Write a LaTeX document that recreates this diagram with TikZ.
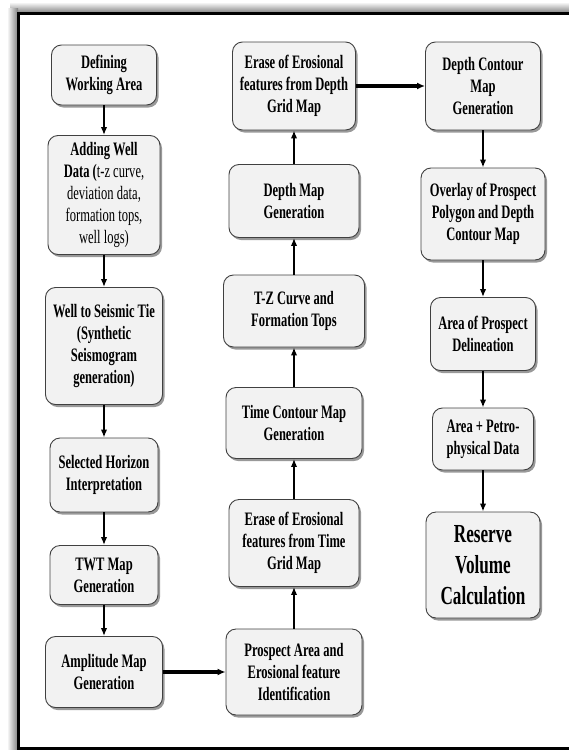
\documentclass[tikz,border=0pt]{standalone}
\usepackage{fontspec}
\setmainfont{Liberation Serif}[FakeStretch=0.66]
\usetikzlibrary{arrows.meta,shadows}

\begin{document}
\begin{tikzpicture}[x=1pt,y=-1pt,
  stage/.style={draw=black!75, line width=0.9pt, rounded corners=10pt, fill=black!5,
    align=center, inner sep=2pt, font=\fontsize{19}{22}\selectfont\bfseries,
    drop shadow={shadow xshift=2pt, shadow yshift=-2.5pt, fill=black!50, opacity=0.8}},
  flow/.style={line width=2pt, -{Latex[length=8pt,width=6.5pt]}},
  bigflow/.style={line width=3.2pt, -{Latex[length=8pt,width=7pt]}}]

\useasboundingbox (0,0) rectangle (569,750);

% Frame
\shade[top color=white, bottom color=black!50] (10,2) rectangle (575,13);
\shade[left color=white, right color=black!50] (7,8) rectangle (18,750);
\draw[line width=3pt] (575,13.5) -- (18.5,13.5) -- (18.5,748) -- (575,748);

% Left column
\node[stage, minimum width=105, minimum height=60] (define) at (104,75) {Defining\\Working Area};
\node[stage, minimum width=112, minimum height=119] (well) at (104,195)
  {Adding Well\\Data (\mdseries t-z curve,\\\mdseries deviation data,\\\mdseries formation tops,\\\mdseries well logs)};
\node[stage, minimum width=117, minimum height=117] (tie) at (104,346)
  {Well to Seismic Tie\\(Synthetic\\Seismogram\\generation)};
\node[stage, minimum width=108, minimum height=74] (horizon) at (104,475) {Selected Horizon\\Interpretation};
\node[stage, minimum width=108, minimum height=59] (twt) at (104,575) {TWT Map\\Generation};
\node[stage, minimum width=117, minimum height=71] (ampl) at (104,672) {Amplitude Map\\Generation};

% Middle column
\node[stage, minimum width=123, minimum height=88] (erasedepth) at (294,86)
  {Erase of Erosional\\features from Depth\\Grid Map};
\node[stage, minimum width=130, minimum height=73] (depthmap) at (294,201) {Depth Map\\Generation};
\node[stage, minimum width=141, minimum height=72] (tz) at (294,311) {T-Z Curve and\\Formation Tops};
\node[stage, minimum width=136, minimum height=71] (timecont) at (294,423) {Time Contour Map\\Generation};
\node[stage, minimum width=130, minimum height=87] (erasetime) at (294,543)
  {Erase of Erosional\\features from Time\\Grid Map};
\node[stage, minimum width=136, minimum height=86] (prospect) at (294,672)
  {Prospect Area and\\Erosional feature\\Identification};

% Right column
\node[stage, minimum width=115, minimum height=88] (depthcont) at (483,86) {Depth Contour\\Map\\Generation};
\node[stage, minimum width=124, minimum height=92] (overlay) at (483,214)
  {Overlay of Prospect\\Polygon and Depth\\Contour Map};
\node[stage, minimum width=105, minimum height=73] (delin) at (483,334) {Area of Prospect\\Delineation};
\node[stage, minimum width=101, minimum height=62] (petro) at (483,439) {Area + Petro-\\physical Data};
\node[stage, minimum width=114, minimum height=106, font=\fontsize{26}{31}\selectfont\bfseries]
  (reserve) at (483,565) {Reserve\\Volume\\Calculation};

% Arrows
\draw[flow] (define) -- (well);
\draw[flow] (well) -- (tie);
\draw[flow] (tie) -- (horizon);
\draw[flow] (horizon) -- (twt);
\draw[flow] (twt) -- (ampl);
\draw[bigflow] (ampl) -- (prospect);
\draw[flow] (prospect) -- (erasetime);
\draw[flow] (erasetime) -- (timecont);
\draw[flow] (timecont) -- (tz);
\draw[flow] (tz) -- (depthmap);
\draw[flow] (depthmap) -- (erasedepth);
\draw[bigflow] (erasedepth) -- (depthcont);
\draw[flow] (depthcont) -- (overlay);
\draw[flow] (overlay) -- (delin);
\draw[flow] (delin) -- (petro);
\draw[flow] (petro) -- (reserve);
\end{tikzpicture}
\end{document}
